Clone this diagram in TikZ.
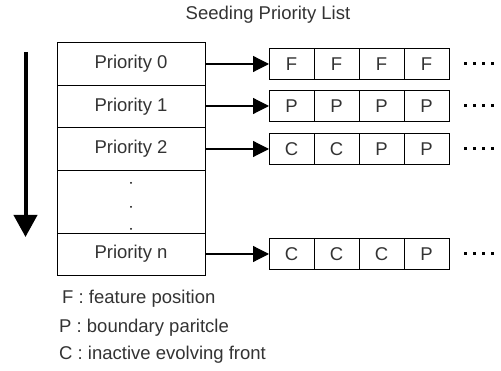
\documentclass[tikz,border=0pt]{standalone}
\usepackage{fontspec}
\setmainfont{Liberation Sans}
\usetikzlibrary{arrows.meta}
\begin{document}
\begin{tikzpicture}[x=1pt,y=-1pt,
  every node/.style={font=\fontsize{18.5}{22}\selectfont, text=black!80},
  prio/.style={draw, line width=0.8pt, minimum width=148pt, minimum height=42.4pt,
               inner sep=0pt, outer sep=0pt},
  cell/.style={draw, line width=0.8pt, minimum width=45pt, minimum height=31pt,
               inner sep=0pt, outer sep=0pt},
  link/.style={line width=1.2pt, -{Triangle[length=16pt,width=16pt]}},
  more/.style={line width=3pt, dash pattern=on 3pt off 6pt},
  legend/.style={anchor=west, inner sep=0pt}]
\useasboundingbox (0,0) rectangle (501,371);

% title
\node (title) at (268,15) {Seeding Priority List};

% priority table
\node[prio] (p0) at (131,64) {Priority 0};
\node[prio, anchor=north] (p1) at (p0.south) {Priority 1};
\node[prio, anchor=north] (p2) at (p1.south) {Priority 2};
\node[prio, anchor=north, minimum height=63pt] (pd) at (p2.south) {};
\node[prio, anchor=north] (pn) at (pd.south) {Priority n};
\fill[black] (131,183) circle (1pt) (131,207) circle (1pt) (131,229) circle (1pt);

% seed lists
\foreach \row/\y/\a/\b/\c/\d in {p0/64/F/F/F/F, p1/106/P/P/P/P, p2/149/C/C/P/P, pn/254/C/C/C/P}{
  \node[cell] (\row c1) at (291.5,\y) {\a};
  \node[cell, anchor=west] (\row c2) at (\row c1.east) {\b};
  \node[cell, anchor=west] (\row c3) at (\row c2.east) {\c};
  \node[cell, anchor=west] (\row c4) at (\row c3.east) {\d};
  \draw[link] (\row.east |- \row c1.west) -- (\row c1.west);
  \coordinate (\row e) at ([xshift=15pt]\row c4.east);
  \draw[more] (\row e) -- ++(30,0);
}

% processing order
\coordinate (top) at (25.5,52);
\coordinate (bottom) at (25.5,237);
\draw[line width=4pt, -{Triangle[length=22pt,width=23pt]}] (top) -- (bottom);

% legend
\node[legend] (lf) at (62,299) {F : feature position};
\node[legend] (lp) at (59,328) {P : boundary paritcle};
\node[legend] (lc) at (59,355) {C : inactive evolving front};
\end{tikzpicture}
\end{document}
